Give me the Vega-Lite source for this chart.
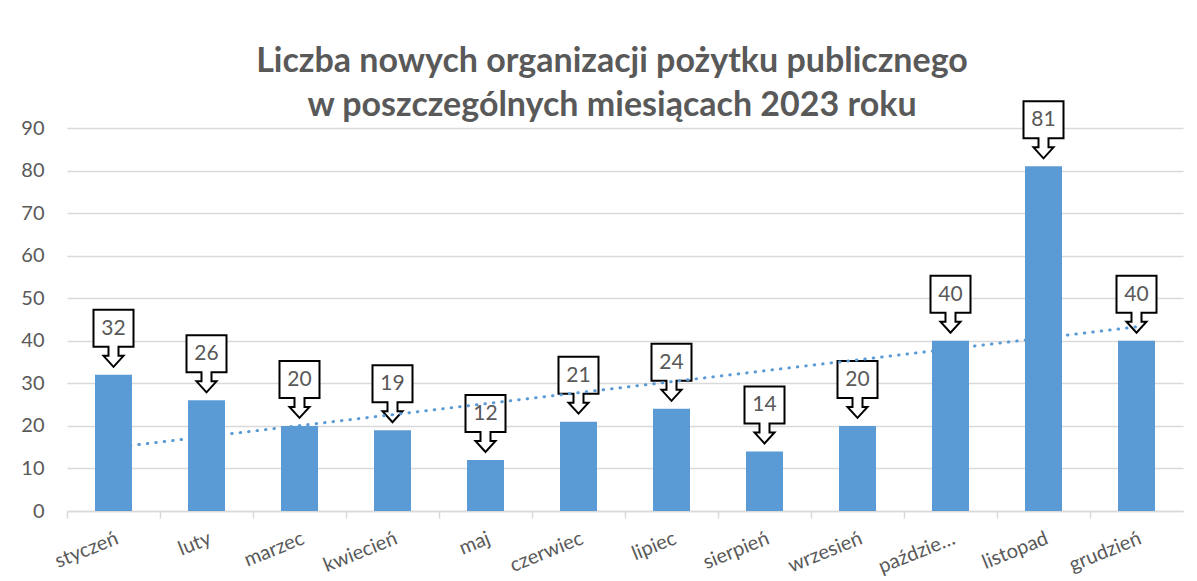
{
  "$schema": "https://vega.github.io/schema/vega-lite/v6.json",
  "width": 1116,
  "height": 383,
  "autosize": {"type": "none"},
  "padding": {"left": 67, "top": 128, "right": 14, "bottom": 70},
  "background": "white",
  "config": {
    "font": "Lato",
    "view": {"stroke": null}
  },
  "title": {
    "text": ["Liczba nowych organizacji pożytku publicznego", "w poszczególnych miesiącach 2023 roku"],
    "font": "Lato",
    "fontSize": 34,
    "fontWeight": "bold",
    "color": "#595959",
    "lineHeight": 44,
    "anchor": "middle",
    "dx": -13,
    "offset": -26
  },
  "datasets": {
    "miesiace": [
      {"m": "styczeń", "nr": 1, "v": 32},
      {"m": "luty", "nr": 2, "v": 26},
      {"m": "marzec", "nr": 3, "v": 20},
      {"m": "kwiecień", "nr": 4, "v": 19},
      {"m": "maj", "nr": 5, "v": 12},
      {"m": "czerwiec", "nr": 6, "v": 21},
      {"m": "lipiec", "nr": 7, "v": 24},
      {"m": "sierpień", "nr": 8, "v": 14},
      {"m": "wrzesień", "nr": 9, "v": 20},
      {"m": "październik", "nr": 10, "v": 40},
      {"m": "listopad", "nr": 11, "v": 81},
      {"m": "grudzień", "nr": 12, "v": 40}
    ]
  },
  "data": {"name": "miesiace"},
  "encoding": {
    "x": {
      "field": "m",
      "type": "ordinal",
      "sort": null,
      "scale": {"paddingInner": 0, "paddingOuter": 0},
      "axis": {
        "title": null,
        "labelAngle": -22,
        "labelAlign": "right",
        "labelBaseline": "top",
        "labelFontSize": 20,
        "labelColor": "#595959",
        "labelPadding": 10,
        "labelExpr": "length(datum.label) > 9 ? slice(datum.label, 0, 7) + '…' : datum.label",
        "labelOverlap": false,
        "domainColor": "#d9d9d9",
        "domainWidth": 1.5,
        "tickColor": "#d9d9d9",
        "tickWidth": 1.5,
        "tickSize": 7,
        "bandPosition": 0,
        "grid": false
      }
    }
  },
  "layer": [
    {
      "mark": {"type": "bar", "color": "#5B9BD5", "size": 37},
      "encoding": {
        "y": {
          "field": "v",
          "type": "quantitative",
          "scale": {"domain": [0, 90]},
          "axis": {
            "title": null,
            "values": [0, 10, 20, 30, 40, 50, 60, 70, 80, 90],
            "labelFontSize": 20,
            "labelColor": "#595959",
            "ticks": false,
            "tickSize": 0,
            "domain": false,
            "labelPadding": 23,
            "gridColor": "#d9d9d9",
            "gridWidth": 1.3
          }
        }
      }
    },
    {
      "mark": {
        "type": "point",
        "shape": "M-0.6667,-2.1667 L0.6667,-2.1667 L0.6667,-0.9333 L0.1667,-0.9333 L0.1667,-0.6333 L0.3333,-0.6333 L0,-0.2667 L-0.3333,-0.6333 L-0.1667,-0.6333 L-0.1667,-0.9333 L-0.6667,-0.9333 Z",
        "size": 3600,
        "filled": true,
        "fill": "white",
        "stroke": "black",
        "strokeWidth": 2,
        "opacity": 1,
        "fillOpacity": 1,
        "strokeOpacity": 1
      },
      "encoding": {
        "y": {"field": "v", "type": "quantitative"}
      }
    },
    {
      "mark": {
        "type": "text",
        "dy": -46,
        "fontSize": 21,
        "color": "#595959",
        "baseline": "middle",
        "align": "center"
      },
      "encoding": {
        "y": {"field": "v", "type": "quantitative"},
        "text": {"field": "v", "type": "quantitative"}
      }
    },
    {
      "transform": [
        {"regression": "v", "on": "nr", "extent": [1, 12]},
        {"lookup": "nr", "from": {"data": {"name": "miesiace"}, "key": "nr", "fields": ["m"]}},
        {"filter": "isValid(datum.m)"}
      ],
      "mark": {
        "type": "line",
        "color": "#5B9BD5",
        "strokeWidth": 3,
        "strokeCap": "round",
        "strokeDash": [0.5, 8]
      },
      "encoding": {
        "y": {"field": "v", "type": "quantitative"}
      }
    }
  ]
}
